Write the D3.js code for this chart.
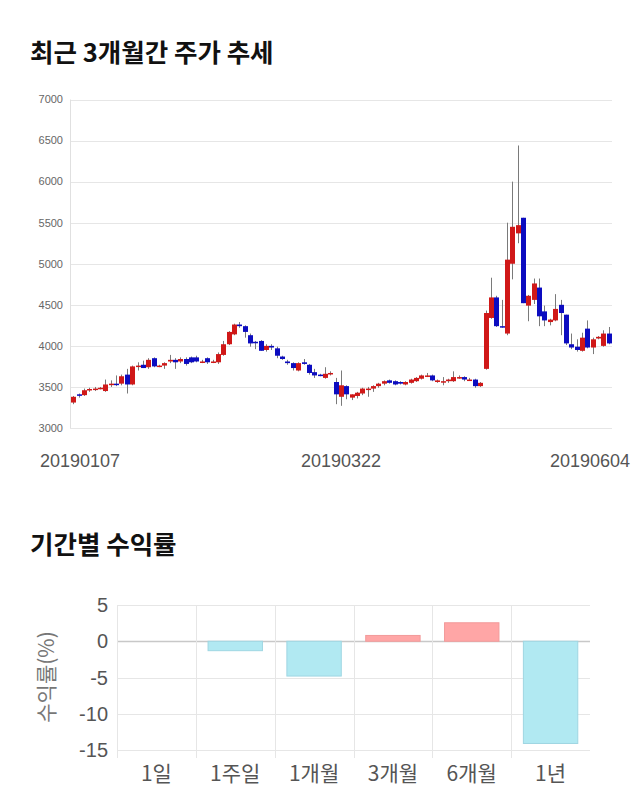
<!DOCTYPE html>
<html><head><meta charset="utf-8">
<script src="https://cdn.jsdelivr.net/npm/d3@7"></script>
<style>
body{margin:0;background:#fff;}
svg{display:block;font-family:"Noto Sans CJK KR","Noto Sans",sans-serif;}
</style></head>
<body><svg id="c" width="640" height="810"></svg>
<script>
const dates = ["20190107","20190108","20190109","20190110","20190111","20190114","20190115","20190116","20190117","20190118",
"20190121","20190122","20190123","20190124","20190125","20190128","20190129","20190130","20190131",
"20190201","20190207","20190208","20190211","20190212","20190213","20190214","20190215","20190218","20190219","20190220","20190221","20190222","20190225","20190226","20190227","20190228",
"20190304","20190305","20190306","20190307","20190308","20190311","20190312","20190313","20190314","20190315","20190318","20190319","20190320","20190321","20190322","20190325","20190326","20190327","20190328","20190329",
"20190401","20190402","20190403","20190404","20190405","20190408","20190409","20190410","20190411","20190412","20190415","20190416","20190417","20190418","20190419","20190422","20190423","20190424","20190425","20190426","20190429","20190430",
"20190502","20190503","20190507","20190508","20190509","20190510","20190513","20190514","20190515","20190516","20190517","20190520","20190521","20190522","20190523","20190524","20190527","20190528","20190529","20190530","20190531",
"20190603","20190604"];
const opens = [3310,3410,3400,3460,3480,3480,3450,3530,3540,3540,3650,3530,3750,3770,3740,3850,3760,3760,3810,3830,
3810,3840,3860,3860,3810,3850,3810,3800,3890,4020,4140,4260,4240,4130,4050,4060,3950,4000,3970,3870,
3810,3790,3700,3800,3770,3680,3650,3610,3670,3560,3380,3510,3370,3390,3420,3480,3480,3510,3540,3580,
3570,3560,3530,3550,3570,3600,3640,3640,3560,3570,3570,3570,3620,3620,3590,3590,3510,3720,4340,4590,
4240,4150,5000,5370,5560,4490,4560,4710,4420,4290,4310,4500,4380,4020,3990,3940,4210,3980,4090,4000,4150];
const highs = [3390,3420,3480,3490,3500,3500,3590,3580,3640,3650,3720,3760,3800,3820,3850,3860,3770,3800,3890,3850,
3860,3860,3870,3880,3830,3860,3830,3920,4060,4180,4270,4290,4250,4150,4060,4070,4020,4020,3990,3880,
3830,3800,3800,3840,3780,3720,3660,3740,3690,3610,3700,3520,3410,3440,3490,3500,3520,3550,3580,3590,
3580,3570,3570,3600,3620,3650,3670,3650,3590,3620,3600,3690,3640,3630,3610,3600,3560,4430,4830,4610,
4560,5500,6000,6440,5560,4620,4820,4820,4490,4330,4630,4560,4380,4150,4080,4160,4310,4100,4120,4190,4230];
const lows = [3290,3370,3390,3440,3450,3470,3440,3500,3510,3520,3420,3520,3700,3730,3720,3740,3740,3720,3790,3720,
3790,3760,3790,3800,3790,3780,3790,3780,3880,4010,4130,4220,4100,3990,3960,3940,3930,3950,3850,3830,
3770,3700,3690,3770,3650,3610,3630,3600,3640,3290,3270,3350,3340,3360,3400,3380,3440,3490,3520,3540,
3520,3530,3520,3540,3560,3590,3620,3570,3550,3520,3550,3560,3600,3570,3580,3490,3500,3710,4330,4230,
4220,4130,4810,5250,4520,4300,4510,4240,4240,4250,4300,4130,4010,3960,3930,3930,3970,3900,4080,3990,4020];
const closes = [3380,3400,3460,3475,3480,3490,3530,3540,3535,3630,3530,3750,3760,3730,3830,3750,3760,3790,3830,3800,
3840,3780,3800,3810,3810,3800,3810,3900,4020,4170,4260,4240,4170,4030,4040,3940,4000,3980,3880,3840,
3790,3730,3790,3780,3670,3640,3640,3660,3670,3410,3520,3410,3410,3430,3480,3480,3510,3540,3570,3550,
3530,3540,3560,3590,3610,3640,3640,3580,3580,3570,3590,3620,3620,3590,3590,3510,3550,4400,4590,4240,
4230,5050,5450,5470,4520,4610,4760,4360,4310,4320,4450,4400,4030,3980,3950,4100,3980,4080,4110,4150,4030];
const priceTicks = [3000,3500,4000,4500,5000,5500,6000,6500,7000];
const dateLabels = ["20190107","20190322","20190604"];

const periods = ["1일","1주일","1개월","3개월","6개월","1년"];
const returns = [0,-1.3,-4.8,0.8,2.55,-14.1];
const returnTicks = [5,0,-5,-10,-15];

const svg = d3.select("#c");

// Titles
svg.append("text").attr("x",30).attr("y",62).attr("font-size",25.5).attr("font-weight","bold").attr("fill","#111").text("최근 3개월간 주가 추세");
svg.append("text").attr("x",30).attr("y",554).attr("font-size",25.5).attr("font-weight","bold").attr("fill","#111").text("기간별 수익률");

// ---- Candlestick chart ----
const x = d3.scalePoint().domain(dates).range([73.3,608.7]);
const y = d3.scaleLinear().domain([3000,7000]).range([428,99.5]);
const g = svg.append("g");
g.selectAll("line.grid").data(priceTicks).join("line")
  .attr("x1",70).attr("x2",612).attr("y1",d=>Math.round(y(d))+0.5).attr("y2",d=>Math.round(y(d))+0.5)
  .attr("stroke","#e6e6e6").attr("stroke-width",1);
g.append("line").attr("x1",70.5).attr("x2",70.5).attr("y1",y(7000)).attr("y2",y(3000)).attr("stroke","#e0e0e0");
g.selectAll("text.yt").data(priceTicks).join("text")
  .attr("x",63).attr("y",d=>y(d)).attr("dy","0.35em").attr("text-anchor","end")
  .attr("font-size",11).attr("fill","#666").attr("font-family","Liberation Sans, Arial, sans-serif").text(d=>d);
g.selectAll("text.xt").data(dateLabels).join("text")
  .attr("x",d=>Math.max(80,Math.min(590,x(d)))).attr("y",467).attr("text-anchor","middle")
  .attr("font-size",18).attr("fill","#555").attr("font-family","Liberation Sans, Arial, sans-serif").text(d=>d);

const idx = d3.range(dates.length);
const up = i => closes[i] >= opens[i];
const red = "#d01818", blue = "#0c0cc0";
g.selectAll("line.wick").data(idx).join("line")
  .attr("x1",i=>Math.round(x(dates[i]))+0.5).attr("x2",i=>Math.round(x(dates[i]))+0.5)
  .attr("y1",i=>y(highs[i])).attr("y2",i=>y(lows[i]))
  .attr("stroke","#7a7a7a").attr("stroke-width",1);
g.selectAll("rect.body").data(idx).join("rect")
  .attr("x",i=>Math.round(x(dates[i]))-2).attr("width",5)
  .attr("y",i=>y(Math.max(opens[i],closes[i])))
  .attr("height",i=>Math.max(1.5,Math.abs(y(opens[i])-y(closes[i]))))
  .attr("fill",i=>up(i)?red:blue);

// ---- Returns bar chart ----
const xb = d3.scaleBand().domain(periods).range([117,590]).paddingInner(0.31).paddingOuter(0.155);
const yb = d3.scaleLinear().domain([-15,5]).range([750,605]);
const gb = svg.append("g");
const step = xb.step();
gb.selectAll("line.hg").data(returnTicks).join("line")
  .attr("x1",117).attr("x2",590).attr("y1",d=>Math.round(yb(d))+0.5).attr("y2",d=>Math.round(yb(d))+0.5)
  .attr("stroke",d=>d===0?"#c8c8c8":"#e6e6e6").attr("stroke-width",d=>d===0?1.5:1);
gb.selectAll("line.vg").data(d3.range(periods.length)).join("line")
  .attr("x1",i=>Math.round(117+i*step)+0.5).attr("x2",i=>Math.round(117+i*step)+0.5)
  .attr("y1",605).attr("y2",758).attr("stroke","#e6e6e6");
gb.selectAll("rect").data(periods).join("rect")
  .attr("x",d=>xb(d)).attr("width",xb.bandwidth())
  .attr("y",(d,i)=>yb(Math.max(0,returns[i])))
  .attr("height",(d,i)=>Math.abs(yb(returns[i])-yb(0)))
  .attr("fill",(d,i)=>returns[i]>=0?"#ffa6a6":"#b1e9f2")
  .attr("stroke",(d,i)=>returns[i]>=0?"#f29a9a":"#9fd6e2").attr("stroke-width",1)
  .attr("display",(d,i)=>returns[i]===0?"none":null);
gb.selectAll("text.yt").data(returnTicks).join("text")
  .attr("x",108).attr("y",d=>yb(d)).attr("dy","0.35em").attr("text-anchor","end")
  .attr("font-size",20).attr("fill","#555").attr("font-family","Liberation Sans, Arial, sans-serif").text(d=>d);
gb.selectAll("text.xt").data(periods).join("text")
  .attr("x",d=>xb(d)+xb.bandwidth()/2).attr("y",781).attr("text-anchor","middle")
  .attr("font-size",21).attr("fill","#555").text(d=>d);
gb.append("text").attr("transform","translate(54,677) rotate(-90)").attr("text-anchor","middle")
  .attr("font-size",21).attr("fill","#777").text("수익률(%)");
</script></body></html>
